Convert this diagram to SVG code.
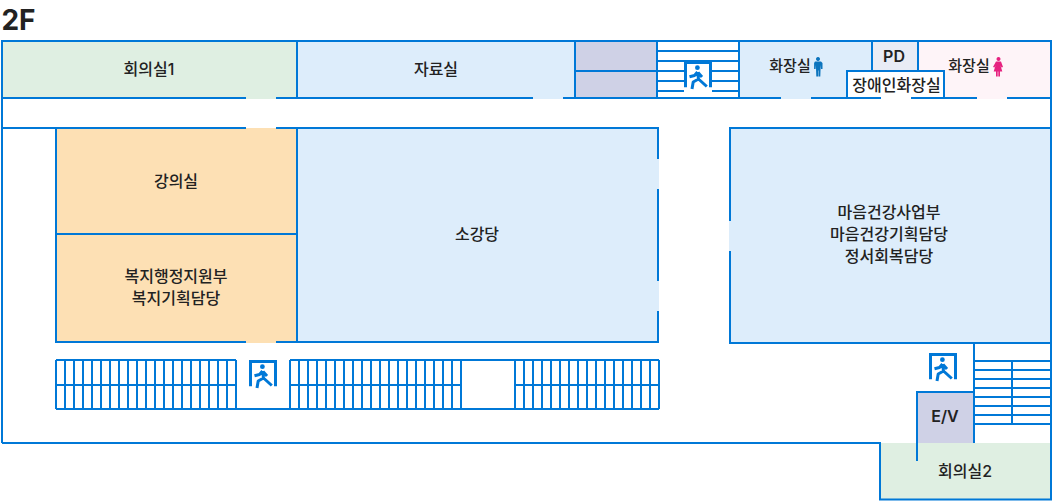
<svg xmlns="http://www.w3.org/2000/svg" width="1052" height="501" viewBox="0 0 1052 501">
<style>
text{font-family:"Inter","Noto Sans CJK KR","Noto Sans",sans-serif;font-size:16px;font-weight:500;fill:#222;text-anchor:middle}
.w{fill:none;stroke:#0078d7;stroke-width:2}
.green{fill:#dfefe2}.blue{fill:#ddedfb}.lav{fill:#cfd1e6}.orange{fill:#fde0b4}.pink{fill:#fef4f8}.pd{fill:#e9ecf5}
.s{font-size:15px}
</style>
<defs>
<g id="exit">
<rect x="0" y="0" width="28" height="32" fill="#fff"/>
<path d="M1.500 26.300V1.500H26.500V26.300" fill="none" stroke="#0078d7" stroke-width="3"/>
<circle cx="13.400" cy="6.700" r="2.400" fill="#0078d7"/>
<path d="M13.500 11 10.500 14.500 5.500 15.800M13.500 11 14.500 18 9.200 21 8 28M14.500 18 20 23 22.800 25.500M14 11.500 18 16" fill="none" stroke="#0078d7" stroke-width="3" stroke-linejoin="round"/>
</g>
</defs>
<text x="18.500" y="30" style="font-size:28px;font-weight:700">2F</text>
<g id="room-meeting1"><rect x="2" y="41" width="295" height="58" class="green"/><text x="149" y="75">회의실1</text></g>
<g id="room-archive"><rect x="297" y="41" width="278" height="58" class="blue"/><text x="436" y="75">자료실</text></g>
<g id="room-storage"><rect x="575" y="41" width="82" height="57" class="lav"/></g>
<g id="room-restroom-m"><rect x="739" y="41" width="133" height="58" class="blue"/><text x="790" y="71" class="s">화장실</text>
<path d="M818 61a2 2 0 1 1 .01 0zM815 61.500h6l1.500 1.500 0 6-1.500 0-.3-4-.4 11.500h-1.800v-6h-.4v6h-1.800l-.4-11.500-.3 4-1.500 0 0-6z" fill="#0b74bd"/></g>
<g id="room-pd"><rect x="872" y="41" width="46" height="30" class="pd"/><text x="894" y="62" style="font-weight:600">PD</text></g>
<g id="room-restroom-f"><rect x="918" y="41" width="133" height="58" class="pink"/><text x="969" y="71" class="s">화장실</text>
<path d="M998.500 61a2 2 0 1 1 .01 0zM996 61.500h5l2 5.500-1.500.6-1-2 1.800 6h-2.300v5h-1.700v-5h-.6v5h-1.700v-5h-2.300l1.800-6-1 2-1.500-.6z" fill="#e6217f"/></g>
<g id="room-accessible"><rect x="847" y="71" width="97" height="27" fill="#fff"/><text x="896.500" y="91">장애인화장실</text></g>
<g id="room-lecture"><rect x="56" y="128" width="241" height="106" class="orange"/><text x="176" y="187">강의실</text></g>
<g id="room-welfare"><rect x="56" y="234" width="241" height="109" class="orange"/><text x="176" y="282">복지행정지원부</text><text x="176" y="304">복지기획담당</text></g>
<g id="room-auditorium"><rect x="297" y="128" width="362" height="214" class="blue"/><text x="477" y="240">소강당</text></g>
<g id="room-mental"><rect x="729" y="128" width="322" height="215" class="blue"/><text x="889" y="218">마음건강사업부</text><text x="889" y="240">마음건강기획담당</text><text x="889" y="262">정서회복담당</text></g>
<g id="room-ev"><rect x="917" y="392" width="57" height="51" class="lav"/><text x="945" y="422" style="font-weight:600">E/V</text></g>
<g id="room-meeting2"><rect x="880" y="443" width="171" height="56" class="green"/><text x="965" y="477">회의실2</text></g>
<g id="connectors" class="w">
<path d="M2 443V41H1051V499.500H880V443H2"/>
<path d="M2 98H246M276 98H533M563 98H781M811 98H881M911 98H977M1007 98H1051M2 128H56"/>
<path d="M297 41V98M575 41V98M575 71H657M657 41V98M739 41V98"/>
<path d="M872 41V71M918 41V71M847 98V71H944V98"/>
<path d="M56 128H246M276 128H658V159M658 189V281M658 311V342H276M246 342H56V128M56 234H297M297 128V342"/>
<path d="M730 221V128H1051M730 251V343H1051"/>
<path d="M657 51H739M657 61H739M657 71H739M657 81H739M657 91H739"/>
<path d="M917 461V392H974M974 343V443M974 361H1051M974 370H1051M974 379H1051M974 388H1051M974 397H1051M974 406H1051M974 415H1051M974 424H1051M1012 361V424"/>
<path d="M56 360H236M290 360H659M56 385H236M290 385H461M515 385H659M56 409H659"/>
<path d="M56 360V409M65 360V409M74 360V409M83 360V409M92 360V409M101 360V409M110 360V409M119 360V409M128 360V409M137 360V409M146 360V409M155 360V409M164 360V409M173 360V409M182 360V409M191 360V409M200 360V409M209 360V409M218 360V409M227 360V409M236 360V409"/>
<path d="M290 360V409M299 360V409M308 360V409M317 360V409M326 360V409M335 360V409M344 360V409M353 360V409M362 360V409M371 360V409M380 360V409M389 360V409M398 360V409M407 360V409M416 360V409M425 360V409M434 360V409M443 360V409M452 360V409M461 360V409"/>
<path d="M515 360V409M524 360V409M533 360V409M542 360V409M551 360V409M560 360V409M569 360V409M578 360V409M587 360V409M596 360V409M605 360V409M614 360V409M623 360V409M632 360V409M641 360V409M650 360V409M659 360V409"/>
</g>
<g id="exit-top"><use href="#exit" x="684" y="61"/></g>
<g id="exit-left"><use href="#exit" x="249" y="360"/></g>
<g id="exit-right"><use href="#exit" x="929" y="353"/></g>
</svg>
